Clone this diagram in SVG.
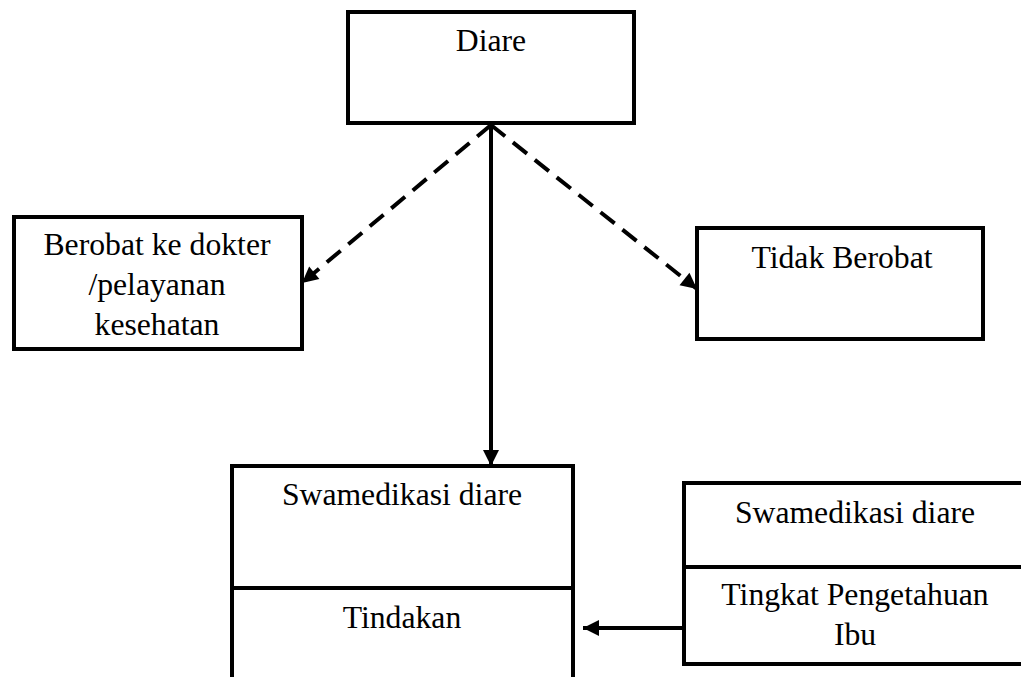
<svg xmlns="http://www.w3.org/2000/svg" width="1021" height="677" viewBox="0 0 1021 677">
<style>
.box{fill:#fff;stroke:#000;stroke-width:4}
.ln{fill:none;stroke:#000;stroke-width:4}
.dash{fill:none;stroke:#000;stroke-width:4;stroke-dasharray:18 10}
text{font-family:"Liberation Serif","Times New Roman",serif;font-size:31.7px;fill:#000;text-anchor:middle}
</style>
<defs>
<marker id="ah" markerUnits="userSpaceOnUse" markerWidth="20" markerHeight="20" viewBox="0 0 20 20" refX="18" refY="10" orient="auto">
<path d="M2,2 L18,10 L2,18 Z" fill="#000"/>
</marker>
</defs>
<rect x="0" y="0" width="1021" height="677" fill="#fff"/>
<g id="node-diare">
<rect class="box" x="348" y="12" width="286" height="111"/>
<text x="491" y="51">Diare</text>
</g>
<g id="node-berobat">
<rect class="box" x="14" y="217" width="288" height="132"/>
<text x="157" y="255">Berobat ke dokter</text>
<text x="157" y="295">/pelayanan</text>
<text x="157" y="335">kesehatan</text>
</g>
<g id="node-tidak">
<rect class="box" x="697" y="228" width="286" height="111"/>
<text x="842" y="268">Tidak Berobat</text>
</g>
<g id="node-swamedikasi">
<path class="ln" d="M232,690 L232,466 L573,466 L573,690"/>
<line class="ln" x1="232" y1="588" x2="573" y2="588"/>
<text x="402" y="505">Swamedikasi diare</text>
<text x="402" y="628">Tindakan</text>
</g>
<g id="node-pengetahuan">
<path class="ln" d="M1030,483 L684,483 L684,664 L1030,664"/>
<line class="ln" x1="684" y1="567" x2="1030" y2="567"/>
<text x="855" y="523">Swamedikasi diare</text>
<text x="855" y="605">Tingkat Pengetahuan</text>
<text x="855" y="645">Ibu</text>
</g>
<g id="connectors">
<line class="ln" x1="491" y1="126" x2="491" y2="466" marker-end="url(#ah)"/>
<line class="dash" x1="491" y1="125" x2="302" y2="283" marker-end="url(#ah)"/>
<line class="dash" x1="491" y1="125" x2="697" y2="289" marker-end="url(#ah)"/>
<line class="ln" x1="684" y1="628" x2="583" y2="628" marker-end="url(#ah)"/>
</g>
</svg>
